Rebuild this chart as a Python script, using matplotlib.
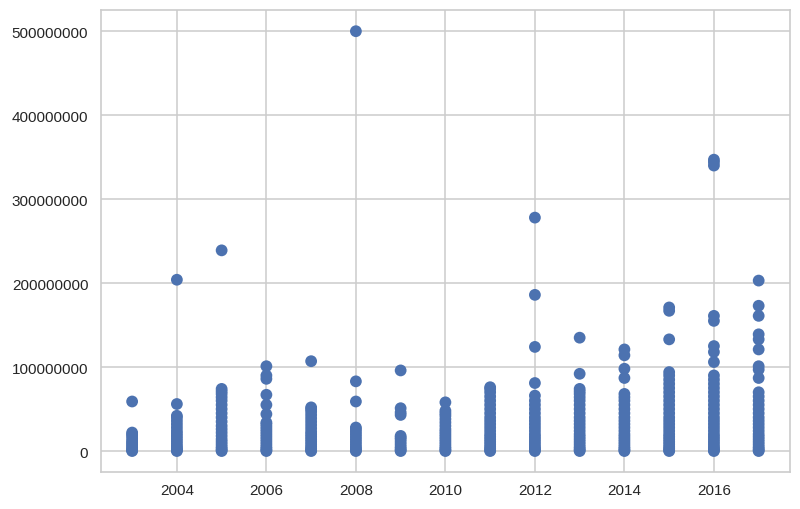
import matplotlib
matplotlib.use("Agg")
import matplotlib.pyplot as plt
from matplotlib.ticker import StrMethodFormatter

# values, in millions, one list per year
years = [2003, 2004, 2005, 2006, 2007, 2008, 2009, 2010,
         2011, 2012, 2013, 2014, 2015, 2016, 2017]

vals_2003 = [0, 1, 2, 4, 6, 8, 10, 12, 15, 18, 20, 22, 59]
vals_2004 = [0, 1, 2, 4, 6, 9, 12, 15, 18, 21, 24, 28, 32, 36, 40, 42, 56, 204]
vals_2005 = [0, 1, 3, 5, 8, 11, 14, 18, 22, 26, 30, 35, 40, 45, 50, 55, 60,
             64, 68, 71, 74, 239]
vals_2006 = [0, 1, 3, 5, 8, 11, 14, 17, 20, 23, 26, 29, 32, 34, 44, 55, 67,
             86, 90, 101]
vals_2007 = [0, 1, 3, 5, 8, 11, 14, 17, 20, 23, 27, 31, 35, 39, 43, 47, 50,
             52, 107]
vals_2008 = [0, 1, 3, 5, 8, 11, 14, 17, 20, 23, 26, 28, 59, 83, 500]
vals_2009 = [0, 1, 3, 5, 8, 11, 14, 16, 18, 43, 46, 51, 96]
vals_2010 = [0, 1, 3, 5, 8, 11, 14, 17, 20, 23, 26, 30, 34, 38, 42, 45, 48, 58]
vals_2011 = [0, 1, 3, 5, 8, 11, 14, 17, 20, 24, 28, 32, 36, 40, 45, 50, 55,
             60, 65, 70, 74, 76]
vals_2012 = [0, 1, 3, 5, 8, 11, 14, 17, 20, 24, 28, 32, 36, 40, 45, 50, 55,
             60, 66, 81, 124, 186, 278]
vals_2013 = [0, 1, 3, 5, 8, 11, 14, 17, 20, 24, 28, 32, 36, 40, 45, 50, 55,
             60, 64, 68, 71, 74, 92, 135]
vals_2014 = [0, 1, 3, 5, 8, 11, 14, 17, 20, 24, 28, 32, 36, 40, 45, 50, 55,
             60, 64, 68, 87, 98, 114, 121]
vals_2015 = [0, 1, 3, 5, 8, 11, 14, 17, 20, 24, 28, 32, 36, 40, 45, 50, 55,
             60, 65, 70, 75, 80, 85, 90, 94, 133, 167, 171]
vals_2016 = [0, 1, 3, 5, 8, 11, 14, 17, 20, 24, 28, 32, 36, 40, 45, 50, 55,
             60, 65, 70, 75, 80, 85, 90, 106, 118, 125, 155, 161, 340, 344, 347]
vals_2017 = [0, 1, 3, 5, 8, 11, 14, 17, 20, 24, 28, 32, 36, 40, 45, 50, 55,
             60, 65, 70, 87, 97, 101, 121, 133, 139, 161, 173, 203]

all_vals = [vals_2003, vals_2004, vals_2005, vals_2006, vals_2007, vals_2008,
            vals_2009, vals_2010, vals_2011, vals_2012, vals_2013, vals_2014,
            vals_2015, vals_2016, vals_2017]

x_ticks = [2004, 2006, 2008, 2010, 2012, 2014, 2016]
y_ticks = [0, 100000000, 200000000, 300000000, 400000000, 500000000]

plt.rcParams["font.family"] = ["Liberation Sans", "DejaVu Sans"]

fig, ax = plt.subplots(figsize=(8, 5.1), dpi=100)
fig.subplots_adjust(left=0.126, right=0.9875, top=0.978, bottom=0.0725)

xs = []
ys = []
for year, vals in zip(years, all_vals):
    for v in vals:
        xs.append(year)
        ys.append(v * 1e6)

ax.scatter(xs, ys, s=72, color="#4C72B0", edgecolors="none", zorder=3)

ax.set_xlim(2002.3, 2017.7)
ax.set_ylim(-25e6, 525e6)
ax.set_xticks(x_ticks)
ax.set_yticks(y_ticks)
ax.yaxis.set_major_formatter(StrMethodFormatter("{x:.0f}"))

ax.grid(True, color="#cccccc", linewidth=1.1, zorder=0)
ax.set_axisbelow(True)
for sp in ax.spines.values():
    sp.set_color("#cccccc")
    sp.set_linewidth(1.2)
ax.tick_params(axis="both", length=0, labelsize=11, colors="#262626")
ax.tick_params(axis="x", pad=8)
ax.tick_params(axis="y", pad=9)

fig.savefig("out.png", dpi=100)
